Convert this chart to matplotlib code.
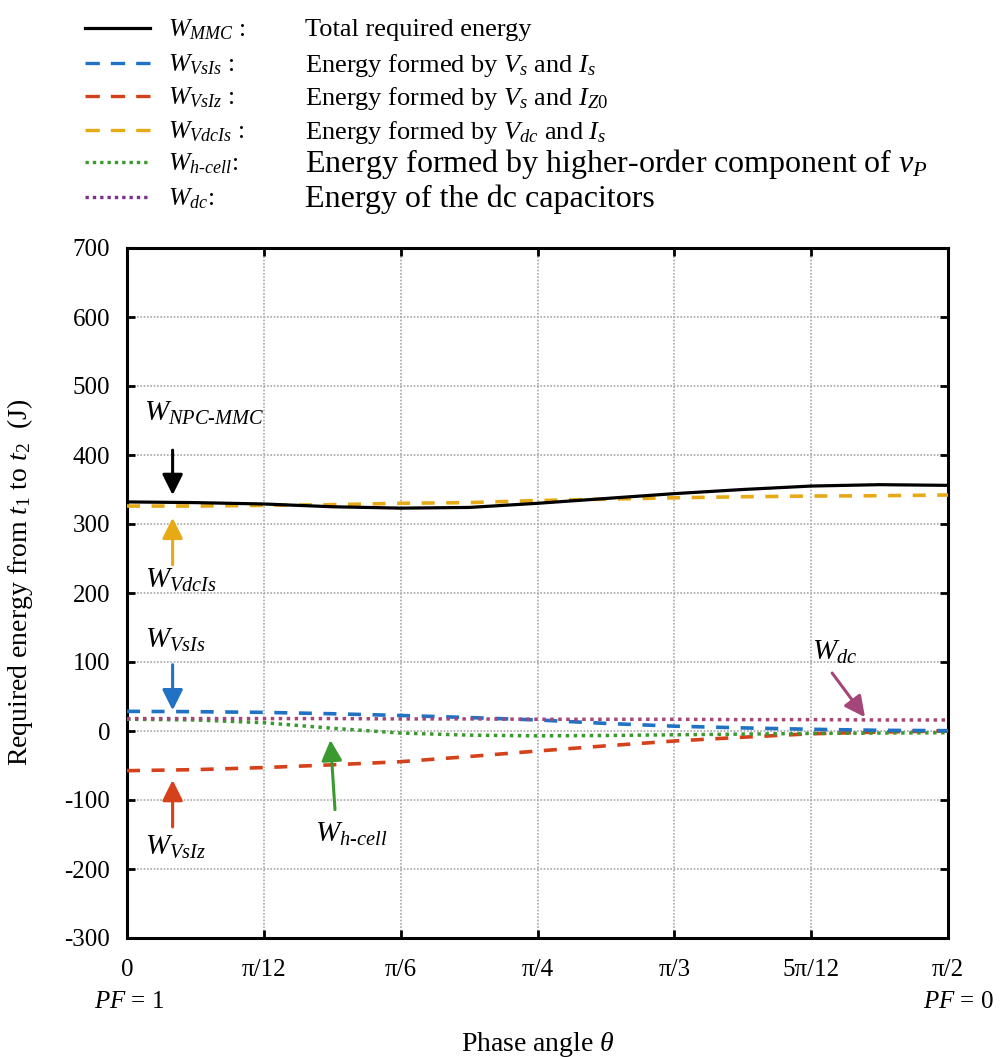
import numpy as np
import matplotlib
matplotlib.use("Agg")
import matplotlib.pyplot as plt
from matplotlib.lines import Line2D
from matplotlib.transforms import blended_transform_factory

plt.rcParams['font.family'] = ['Liberation Serif', 'DejaVu Serif']
plt.rcParams['mathtext.fontset'] = 'custom'
plt.rcParams['mathtext.rm'] = 'Liberation Serif'
plt.rcParams['mathtext.it'] = 'Liberation Serif:italic'
plt.rcParams['mathtext.bf'] = 'Liberation Serif:bold'
plt.rcParams['axes.unicode_minus'] = False

# phase angle samples, every pi/24 from 0 to pi/2
theta = np.arange(13) * np.pi / 24

# energies in J
w_mmc = [332, 331, 329, 325, 323, 324, 330, 337, 344, 350, 355, 357, 356]
w_vdcis = [326, 326, 327, 328, 330, 331, 334, 336, 338, 339.5, 340.5, 341, 342]
w_vsis = [28.5, 28, 27, 25, 22.5, 19.5, 16, 11, 7, 4.5, 2.5, 1, 0.5]
w_vsiz = [-57.5, -56, -53, -49, -44.5, -37, -29, -21.5, -14.5, -9, -4, -1.5, 0]
w_hcell = [17, 16, 12, 4, -3, -6, -7, -6.5, -5.5, -4.5, -3.5, -3, -2.5]
w_dc = [18, 18, 18, 18, 17.5, 17.5, 17, 17, 17, 16.5, 16.5, 16, 16]

xtick_pos = np.arange(7) * np.pi / 12
xtick_lab = ['0', 'π/12', 'π/6', 'π/4', 'π/3', '5π/12', 'π/2']
ytick_pos = np.arange(-300, 701, 100)

legend_w = [r'$W_{MMC}$ :', r'$W_{VsIs}$ :', r'$W_{VsIz}$ :', r'$W_{VdcIs}$ :',
            r'$W_{h\text{-}cell}$:', r'$W_{dc}$:']
legend_desc = ['Total required energy',
               r'Energy formed by $V_s$ and $I_s$',
               r'Energy formed by $V_s$ and $I_{Z0}$',
               r'Energy formed by $V_{dc}$ and $I_s$',
               r'Energy formed by higher-order component of $v_P$',
               'Energy of the dc capacitors']

c_black = '#000000'
c_blue = '#1f72c4'
c_red = '#d4411a'
c_yellow = '#e6aa17'
c_green = '#3a9a30'
c_purple = '#7e2f8e'
c_dc = '#a4467a'

W, H = 1001, 1057
fig = plt.figure(figsize=(W / 100, H / 100), dpi=100)
ax = fig.add_axes([127 / W, 1 - 938 / H, (948 - 127) / W, (938 - 248) / H])

dash = (3.6, 3.2)
dot = (1.0, 1.3)
ax.plot(theta, w_vsiz, color=c_red, lw=2.6, dashes=dash, zorder=3)
ax.plot(theta, w_hcell, color=c_green, lw=2.5, dashes=dot, zorder=3)
ax.plot(theta, w_vsis, color=c_blue, lw=2.6, dashes=dash, zorder=3)
ax.plot(theta, w_dc, color=c_dc, lw=2.5, dashes=dot, zorder=3)
ax.plot(theta, w_vdcis, color=c_yellow, lw=2.6, dashes=dash, zorder=3)
ax.plot(theta, w_mmc, color=c_black, lw=2.3, zorder=4)

ax.set_xlim(0, np.pi / 2)
ax.set_ylim(-300, 700)
ax.set_xticks(xtick_pos)
ax.set_xticklabels(xtick_lab)
ax.set_yticks(ytick_pos)
ax.tick_params(direction='in', length=6, width=2, top=True, right=True,
               labelsize=18)
ax.tick_params(axis='x', pad=15)
ax.tick_params(axis='y', pad=12)
for s in ax.spines.values():
    s.set_linewidth(2.2)
ax.grid(True, color='#a8a8a8', lw=1.2, linestyle=(0, (1, 1)))
ax.set_axisbelow(True)

ax.set_ylabel(r'Required energy from $t_1$ to $t_2$  (J)', fontsize=20)
ax.yaxis.set_label_coords(-0.112, 0.515)
ax.set_xlabel(r'Phase angle $\theta$', fontsize=20)
ax.xaxis.set_label_coords(0.5, -0.133)

tr = blended_transform_factory(ax.transData, ax.transAxes)
ax.text(0.005, -0.093, r'$PF$ = 1', transform=tr, fontsize=18, ha='center', va='center')
ax.text(np.pi / 2 + 0.02, -0.093, r'$PF$ = 0', transform=tr, fontsize=18,
        ha='center', va='center', clip_on=False)

# arrows and labels pointing at each curve
deg = np.pi / 180
arrows = [
    (5.0, 407, 5.0, 342, c_black),
    (5.0, 241, 5.0, 309, c_yellow),
    (5.0, 96, 5.0, 30, c_blue),
    (5.0, -139, 5.0, -71, c_red),
    (22.8, -114, 22.3, -13, c_green),
    (77.3, 84, 80.9, 20, c_dc),
]
for x0, y0, x1, y1, c in arrows:
    ax.annotate('', xy=(x1 * deg, y1), xytext=(x0 * deg, y0),
                arrowprops=dict(arrowstyle='-|>,head_length=0.5,head_width=0.25',
                                mutation_scale=25, lw=2.2, color=c,
                                shrinkA=0, shrinkB=0), zorder=5)

labels = [
    (1.9, 450, r'$W_{NPC\text{-}MMC}$'),
    (2.0, 208, r'$W_{VdcIs}$'),
    (2.0, 121, r'$W_{VsIs}$'),
    (2.0, -180, r'$W_{VsIz}$'),
    (20.6, -161, r'$W_{h\text{-}cell}$'),
    (75.1, 103, r'$W_{dc}$'),
]
for x, y, s in labels:
    ax.text(x * deg, y, s, fontsize=21, ha='left', va='baseline', zorder=5)

# legend block above the axes
rows_y = [28, 63, 96, 130, 162, 197]
styles = [
    dict(color=c_black, lw=2.3),
    dict(color=c_blue, lw=2.4, dashes=(4.3, 3.3)),
    dict(color=c_red, lw=2.4, dashes=(4.3, 3.3)),
    dict(color=c_yellow, lw=2.4, dashes=(4.3, 3.3)),
    dict(color=c_green, lw=2.4, dashes=(1.0, 1.2)),
    dict(color=c_purple, lw=2.4, dashes=(1.0, 1.2)),
]
desc_size = [19, 19, 19, 19, 23, 23]
for i, py in enumerate(rows_y):
    fy = 1 - py / H
    fig.add_artist(Line2D([85 / W, 150 / W], [fy, fy], **styles[i]))
    fig.text(168 / W, fy - 0.002, legend_w[i], fontsize=18.5, ha='left', va='center')
    fig.text(305 / W, fy - 0.002, legend_desc[i], fontsize=desc_size[i],
             ha='left', va='center')

fig.savefig('out.png', dpi=100)
